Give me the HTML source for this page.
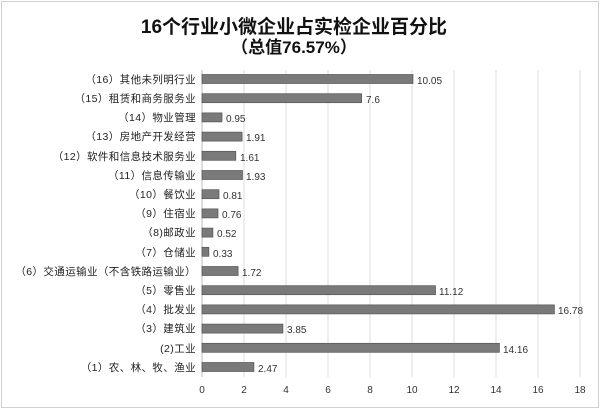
<!DOCTYPE html><html><head><meta charset="utf-8"><style>body{margin:0;background:#fff}</style></head><body>
<svg width="600" height="410" xmlns="http://www.w3.org/2000/svg" font-family="'Liberation Sans','Noto Sans CJK SC',sans-serif">
<rect x="1.5" y="1.5" width="597" height="406" fill="#fff" stroke="#d0d0d0" stroke-width="1"/>
<text x="294" y="33" text-anchor="middle" font-size="19" font-weight="bold" fill="#111">16个行业小微企业占实检企业百分比</text>
<text x="294" y="53" text-anchor="middle" font-size="17" font-weight="bold" fill="#111">（总值76.57%）</text>
<g stroke="#dcdcdc" stroke-width="1">
<line x1="244" y1="70" x2="244" y2="377"/><line x1="286" y1="70" x2="286" y2="377"/><line x1="328" y1="70" x2="328" y2="377"/><line x1="370" y1="70" x2="370" y2="377"/><line x1="412" y1="70" x2="412" y2="377"/><line x1="454" y1="70" x2="454" y2="377"/><line x1="496" y1="70" x2="496" y2="377"/><line x1="538" y1="70" x2="538" y2="377"/><line x1="580" y1="70" x2="580" y2="377"/>
</g>
<line x1="202" y1="70" x2="202" y2="377" stroke="#bbb"/>
<g font-size="10" fill="#333" text-anchor="middle">
<text x="202" y="393">0</text><text x="244" y="393">2</text><text x="286" y="393">4</text><text x="328" y="393">6</text><text x="370" y="393">8</text><text x="412" y="393">10</text><text x="454" y="393">12</text><text x="496" y="393">14</text><text x="538" y="393">16</text><text x="580" y="393">18</text>
</g>
<g fill="#7a7a7a" stroke="#555" stroke-width="0.7">
<rect x="202" y="74.5" width="211" height="9"/>
<rect x="202" y="93.7" width="159.6" height="9"/>
<rect x="202" y="112.9" width="20" height="9"/>
<rect x="202" y="132.1" width="40.1" height="9"/>
<rect x="202" y="151.3" width="33.8" height="9"/>
<rect x="202" y="170.5" width="40.5" height="9"/>
<rect x="202" y="189.7" width="17" height="9"/>
<rect x="202" y="208.9" width="16" height="9"/>
<rect x="202" y="228.1" width="10.9" height="9"/>
<rect x="202" y="247.3" width="6.9" height="9"/>
<rect x="202" y="266.5" width="36.1" height="9"/>
<rect x="202" y="285.7" width="233.5" height="9"/>
<rect x="202" y="304.9" width="352.4" height="9"/>
<rect x="202" y="324.1" width="80.9" height="9"/>
<rect x="202" y="343.3" width="297.4" height="9"/>
<rect x="202" y="362.5" width="51.9" height="9"/>
</g>
<g font-size="10" fill="#333">
<text x="417" y="84">10.05</text>
<text x="366" y="103">7.6</text>
<text x="226" y="122">0.95</text>
<text x="246" y="141">1.91</text>
<text x="240" y="161">1.61</text>
<text x="246" y="180">1.93</text>
<text x="223" y="199">0.81</text>
<text x="222" y="218">0.76</text>
<text x="217" y="237">0.52</text>
<text x="213" y="257">0.33</text>
<text x="242" y="276">1.72</text>
<text x="439" y="295">11.12</text>
<text x="558" y="314">16.78</text>
<text x="287" y="333">3.85</text>
<text x="503" y="353">14.16</text>
<text x="258" y="372">2.47</text>
</g>
<g font-size="10.5" fill="#222" text-anchor="end" letter-spacing="0.4">
<text x="196" y="83">（16）其他未列明行业</text>
<text x="196" y="102">（15）租赁和商务服务业</text>
<text x="196" y="121">（14）物业管理</text>
<text x="196" y="140">（13）房地产开发经营</text>
<text x="196" y="160">（12）软件和信息技术服务业</text>
<text x="196" y="179">（11）信息传输业</text>
<text x="196" y="198">（10）餐饮业</text>
<text x="196" y="217">（9）住宿业</text>
<text x="196" y="236">（8)邮政业</text>
<text x="196" y="256">（7）仓储业</text>
<text x="196" y="275">（6）交通运输业（不含铁路运输业）</text>
<text x="196" y="294">（5）零售业</text>
<text x="196" y="313">（4）批发业</text>
<text x="196" y="332">（3）建筑业</text>
<text x="196" y="352">(2)工业</text>
<text x="196" y="371">（1）农、林、牧、渔业</text>
</g>
</svg>
</body></html>
